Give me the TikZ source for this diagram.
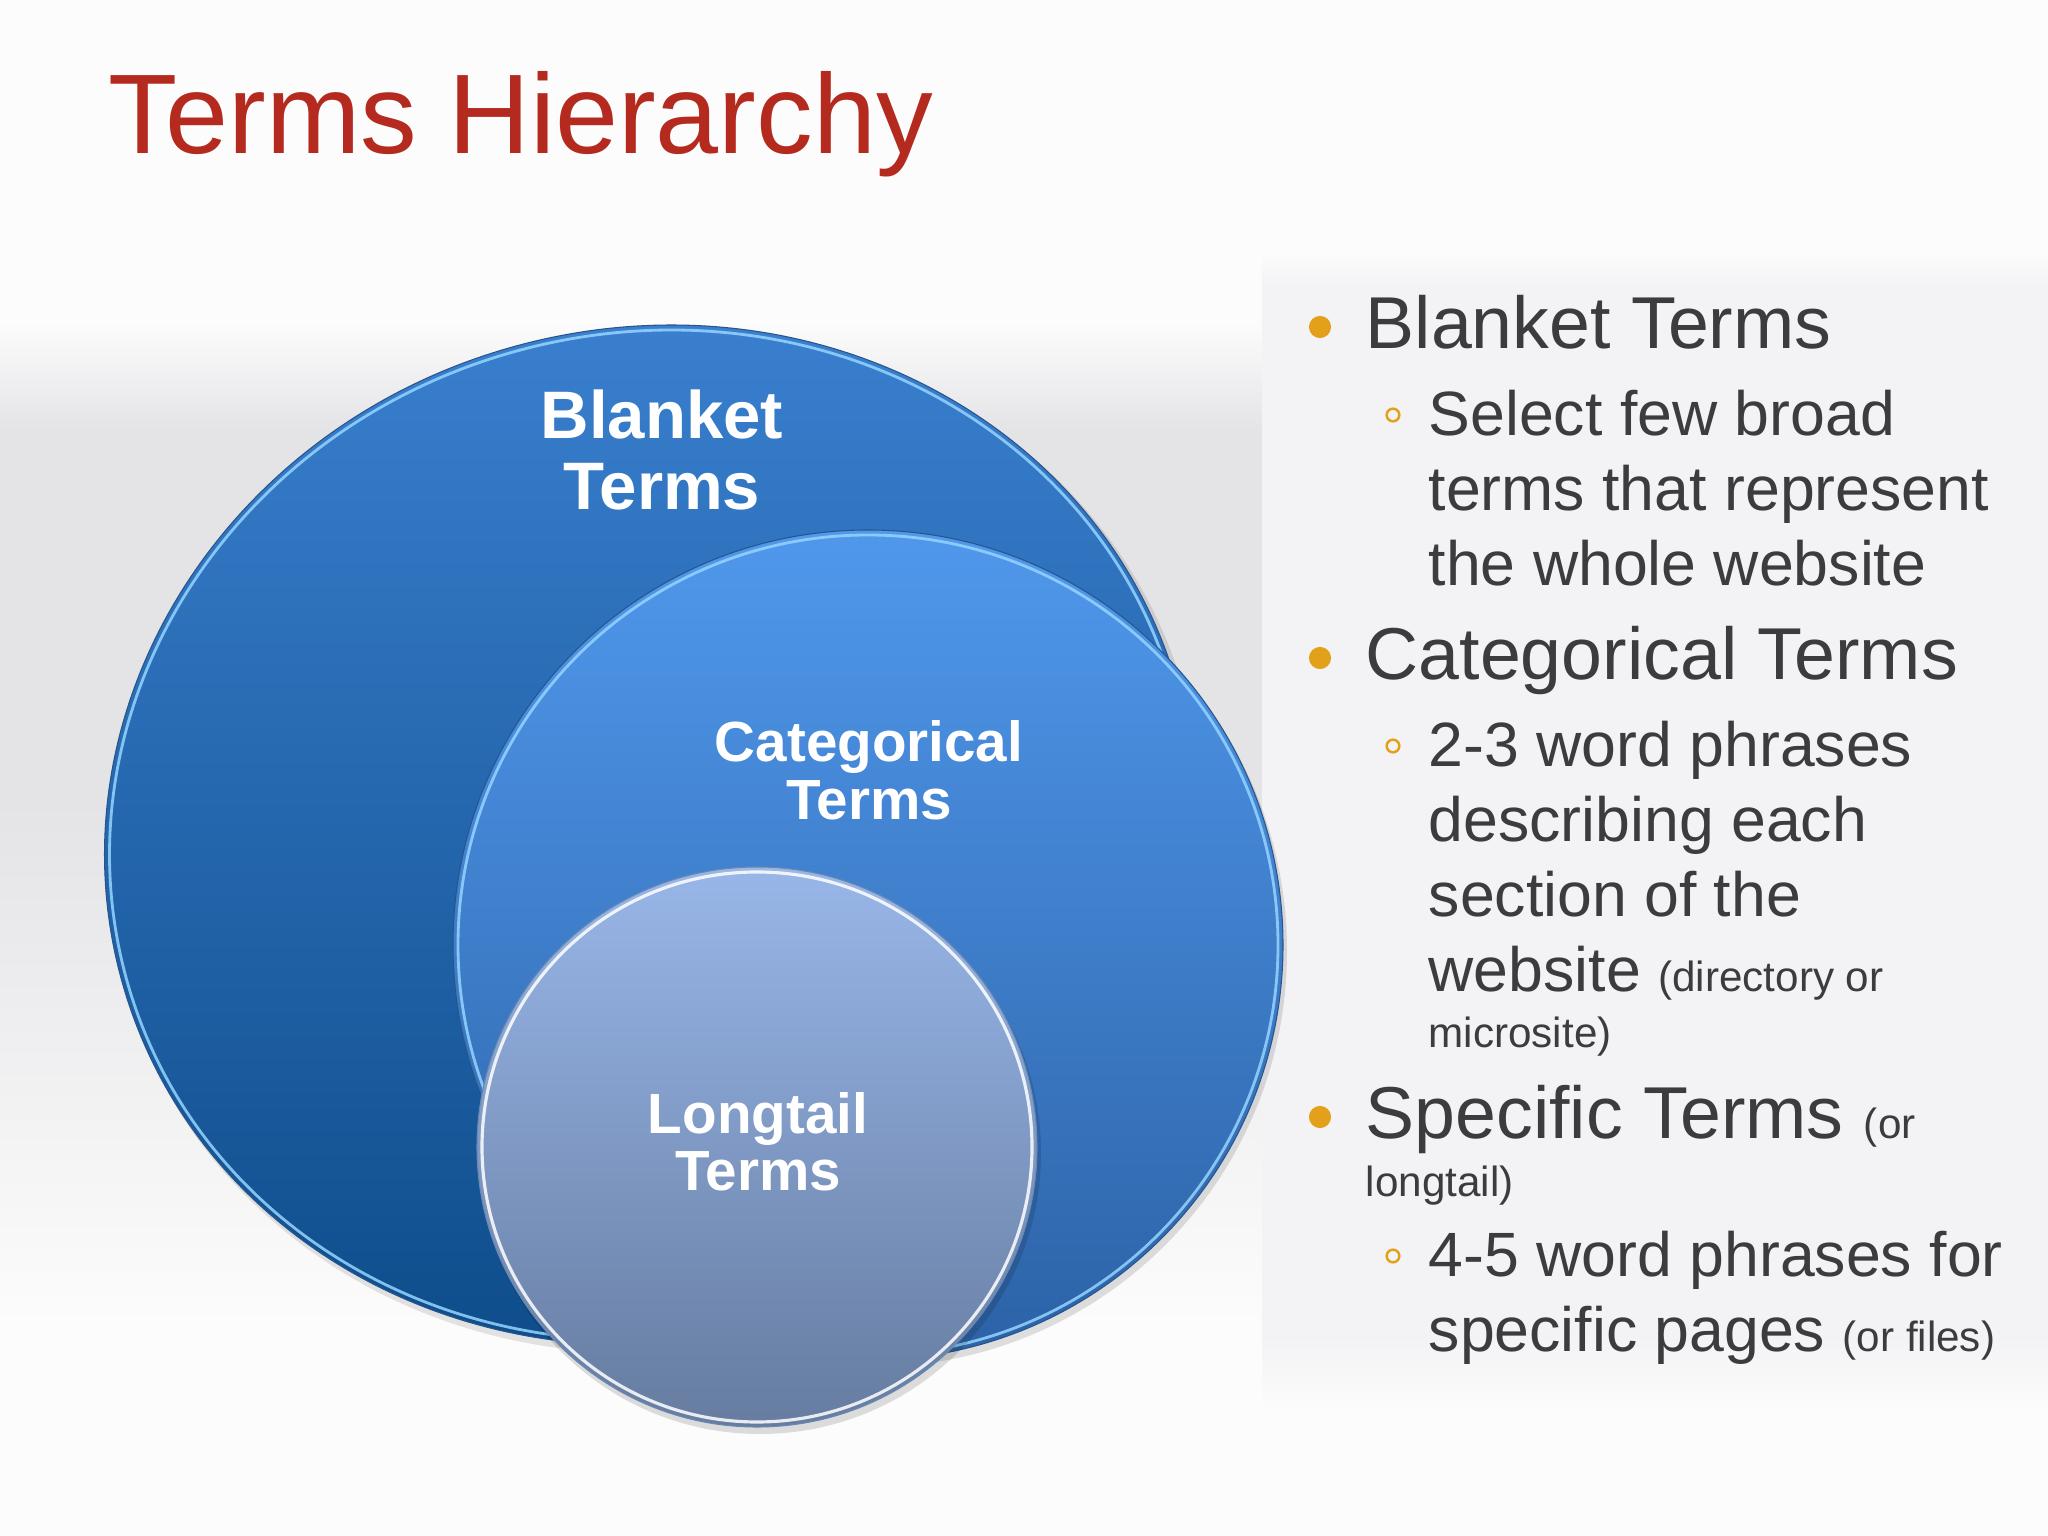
\documentclass[tikz,border=0pt]{standalone}
\usepackage{fontspec}
\setmainfont{Liberation Sans}
\definecolor{titlered}{RGB}{180,42,30}
\definecolor{txt}{RGB}{60,60,62}
\definecolor{bul}{RGB}{227,161,27}
\definecolor{bgL}{RGB}{228,228,231}
\definecolor{bgR}{RGB}{243,243,245}
\definecolor{bigT}{RGB}{60,130,210}
\definecolor{bigB}{RGB}{12,74,135}
\definecolor{catT}{RGB}{80,152,236}
\definecolor{catB}{RGB}{44,98,166}
\definecolor{lonT}{RGB}{152,182,232}
\definecolor{lonB}{RGB}{102,124,160}
\definecolor{rim}{RGB}{150,212,255}
\definecolor{edge}{RGB}{40,85,140}
\begin{document}
\begin{tikzpicture}[x=0.01cm,y=0.01cm,
  titlefont/.style={anchor=base west,inner sep=0,text=titlered,font=\fontsize{32.2pt}{32.2pt}\selectfont},
  mainitem/.style={anchor=base west,inner sep=0,text=txt,font=\fontsize{20.9pt}{20.9pt}\selectfont},
  subitem/.style={anchor=base west,inner sep=0,text=txt,font=\fontsize{17.8pt}{17.8pt}\selectfont},
  smallitem/.style={anchor=base west,inner sep=0,text=txt,font=\fontsize{12pt}{12pt}\selectfont},
  disclbig/.style={anchor=base,inner sep=0,text=white,font=\bfseries\fontsize{19.1pt}{19.1pt}\selectfont},
  discl/.style={anchor=base,inner sep=0,text=white,font=\bfseries\fontsize{16.1pt}{16.1pt}\selectfont},
  mainbul/.style={circle,fill=bul,inner sep=0,minimum size=6.3pt},
  subbul/.style={circle,draw=bul,line width=0.7pt,fill=none,inner sep=0,minimum size=3.6pt},
  rimline/.style={draw=rim,line width=0.8pt,opacity=0.85},
  whiterim/.style={draw=white,line width=0.9pt,opacity=0.85}
]
% background
\fill[white!99!black] (0,0) rectangle (2048,1536);
\useasboundingbox (0,0) rectangle (2048,1536);
\shade[top color=white!99!black,bottom color=bgL] (0,1106) rectangle (1262,1216);
\fill[bgL] (0,736) rectangle (1262,1106);
\shade[top color=bgL,bottom color=white!99!black] (0,200) rectangle (1262,736);
\shade[top color=white!99!black,bottom color=bgR] (1262,1250) rectangle (2048,1285);
\fill[bgR] (1262,200) rectangle (2048,1250);
\shade[top color=bgR,bottom color=white!99!black] (1262,120) rectangle (2048,200);

% title
\node[titlefont] (title) at (108,1382) {Terms Hierarchy};

% big disc
\fill[black,opacity=0.10,shift={(655,695)},rotate=15] (0,0) ellipse [x radius=550,y radius=509];
\shadedraw[shift={(650,701)},rotate=15,top color=bigT,bottom color=bigB,draw=edge,line width=0.3pt] (0,0) ellipse [x radius=548,y radius=507];
\draw[rimline,shift={(650,701)},rotate=15] (0,0) ellipse [x radius=543,y radius=502];

% categorical disc
\fill[black,opacity=0.12] (871,585) circle [radius=416];
\shadedraw[top color=catT,bottom color=catB,draw=edge,line width=0.3pt] (868,591) circle [radius=415];
\draw[rimline] (868,591) circle [radius=410];

% longtail disc
\fill[black,opacity=0.13] (760,383) circle [radius=281];
\shadedraw[top color=lonT,bottom color=lonB,draw=edge!70,line width=0.3pt] (757,389) circle [radius=280];
\draw[whiterim] (757,389) circle [radius=275];

% disc labels
\node[disclbig] (blA) at (662,1097) {Blanket};
\node[disclbig] (blB) at (662,1026) {Terms};
\node[discl] (caA) at (869,774) {Categorical};
\node[discl] (caB) at (869,716) {Terms};
\node[discl] (loA) at (758,402) {Longtail};
\node[discl] (loB) at (758,345) {Terms};

% bullets
\node[mainbul] (b1) at (1320,1209) {};
\node[mainbul] (b2) at (1320,878) {};
\node[mainbul] (b3) at (1320,419) {};
\node[subbul] (s1) at (1393,1121) {};
\node[subbul] (s2) at (1393,790) {};
\node[subbul] (s3) at (1393,280) {};

% text
\node[mainitem] (t1) at (1365,1187) {Blanket Terms};
\node[subitem] (t2) at (1428,1100) {Select few broad};
\node[subitem] (t3) at (1428,1025) {terms that represent};
\node[subitem] (t4) at (1428,950) {the whole website};
\node[mainitem] (t5) at (1365,856) {Categorical Terms};
\node[subitem] (t6) at (1428,769) {2-3 word phrases};
\node[subitem] (t7) at (1428,694) {describing each};
\node[subitem] (t8) at (1428,619) {section of the};
\node[subitem] (t9) at (1428,544) {website {\fontsize{12pt}{12pt}\selectfont (directory or}};
\node[smallitem] (t10) at (1428,488) {microsite)};
\node[mainitem] (t11) at (1365,397) {Specific Terms {\fontsize{12pt}{12pt}\selectfont (or}};
\node[smallitem] (t12) at (1365,339) {longtail)};
\node[subitem] (t13) at (1428,259) {4-5 word phrases for};
\node[subitem] (t14) at (1428,184) {specific pages {\fontsize{12pt}{12pt}\selectfont (or files)}};
\end{tikzpicture}
\end{document}
